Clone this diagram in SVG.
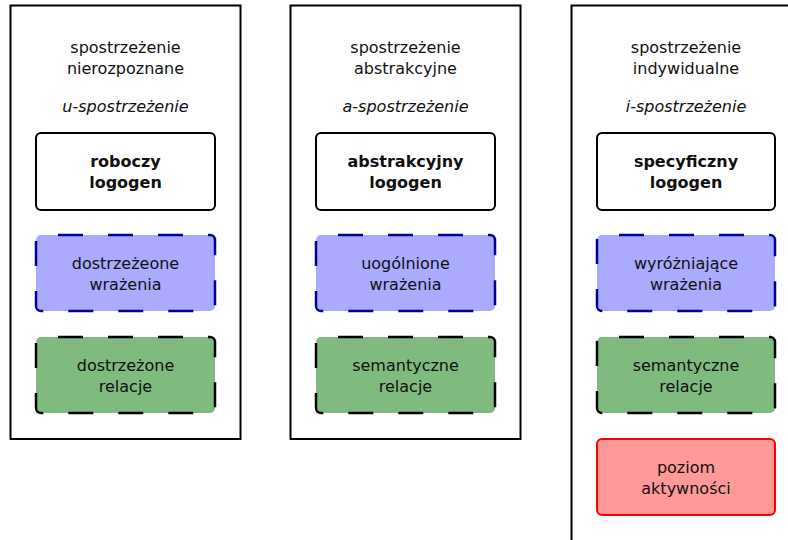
<svg xmlns="http://www.w3.org/2000/svg" width="788" height="540" viewBox="0 0 788 540">
<style>
text{font-family:"DejaVu Sans","Liberation Sans",sans-serif;font-size:16px;fill:#111;text-anchor:middle}
.b{font-weight:bold}
.i{font-style:italic}
.outer{fill:#fff;stroke:#000;stroke-width:2}
.logo{fill:#fff;stroke:#000;stroke-width:2}
.blue{fill:#aaaaff;stroke:#000099;stroke-width:2.5;stroke-dasharray:25 25;stroke-dashoffset:33}
.green{fill:#7fba7f;stroke:#000;stroke-width:2.5;stroke-dasharray:25 25;stroke-dashoffset:33}
.red{fill:#ff9999;stroke:#ff0000;stroke-width:2}
</style>
<rect width="788" height="540" fill="#fff"/>
<g id="col-u">
<rect class="outer" x="10.5" y="5.5" width="230" height="433.5"/>
<text x="125.5" y="53">spostrzeżenie</text>
<text x="125.5" y="74">nierozpoznane</text>
<text class="i" x="125.5" y="112">u-spostrzeżenie</text>
<g id="u-logogen"><rect class="logo" x="36" y="133" width="179" height="77" rx="5"/>
<text class="b" x="125.5" y="167">roboczy</text><text class="b" x="125.5" y="188">logogen</text></g>
<g id="u-wrazenia"><rect class="blue" x="36" y="235" width="179" height="76" rx="5"/>
<text x="125.5" y="269">dostrzeżeone</text><text x="125.5" y="290">wrażenia</text></g>
<g id="u-relacje"><rect class="green" x="36" y="337" width="179" height="76" rx="5"/>
<text x="125.5" y="371">dostrzeżone</text><text x="125.5" y="392">relacje</text></g>
</g>
<g id="col-a">
<rect class="outer" x="290.5" y="5.5" width="230" height="433.5"/>
<text x="405.5" y="53">spostrzeżenie</text>
<text x="405.5" y="74">abstrakcyjne</text>
<text class="i" x="405.5" y="112">a-spostrzeżenie</text>
<g id="a-logogen"><rect class="logo" x="316" y="133" width="179" height="77" rx="5"/>
<text class="b" x="405.5" y="167">abstrakcyjny</text><text class="b" x="405.5" y="188">logogen</text></g>
<g id="a-wrazenia"><rect class="blue" x="316" y="235" width="179" height="76" rx="5"/>
<text x="405.5" y="269">uogólnione</text><text x="405.5" y="290">wrażenia</text></g>
<g id="a-relacje"><rect class="green" x="316" y="337" width="179" height="76" rx="5"/>
<text x="405.5" y="371">semantyczne</text><text x="405.5" y="392">relacje</text></g>
</g>
<g id="col-i">
<rect class="outer" x="571.5" y="5.5" width="230" height="560"/>
<text x="686" y="53">spostrzeżenie</text>
<text x="686" y="74">indywidualne</text>
<text class="i" x="686" y="112">i-spostrzeżenie</text>
<g id="i-logogen"><rect class="logo" x="597" y="133" width="178" height="77" rx="5"/>
<text class="b" x="686" y="167">specyficzny</text><text class="b" x="686" y="188">logogen</text></g>
<g id="i-wrazenia"><rect class="blue" x="597" y="235" width="178" height="76" rx="5"/>
<text x="686" y="269">wyróżniające</text><text x="686" y="290">wrażenia</text></g>
<g id="i-relacje"><rect class="green" x="597" y="337" width="178" height="76" rx="5"/>
<text x="686" y="371">semantyczne</text><text x="686" y="392">relacje</text></g>
<g id="i-poziom"><rect class="red" x="597" y="439" width="178" height="76" rx="5"/>
<text x="686" y="473">poziom</text><text x="686" y="494">aktywności</text></g>
</g>
<g id="connectors"/>
</svg>
